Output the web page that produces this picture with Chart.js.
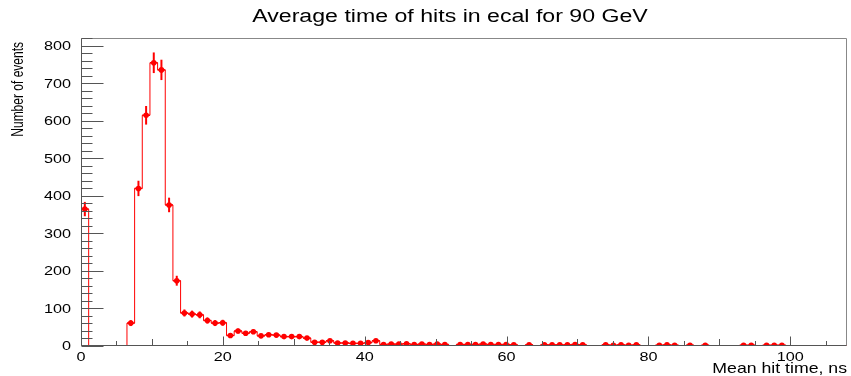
<!DOCTYPE html>
<html>
<head>
<meta charset="utf-8">
<script src="https://cdn.jsdelivr.net/npm/chart.js@4.4.1/dist/chart.umd.min.js"></script>
<style>
  html, body { margin: 0; padding: 0; background: #ffffff; }
  canvas { display: block; }
</style>
</head>
<body>
<canvas id="c" width="851" height="376"></canvas>
<script>
// Histogram binning: 100 bins of 1.08 ns from 0 to 108 ns
const binWidth = 1.08;
const xRange = [0, 108];
const yRange = [0, 821];

// Entries per bin (mean hit time in ECAL, 90 GeV)
const counts = [
  365, 0, 0, 0, 0, 0, 61, 420, 615, 755,
  736, 376, 174, 88, 85, 83, 68, 61, 62, 28,
  40, 34, 38, 27, 30, 29, 25, 25, 25, 21,
  10, 10, 14, 8, 8, 7, 7, 9, 14, 4,
  5, 5, 6, 4, 5, 4, 5, 4, 0, 4,
  4, 4, 5, 4, 4, 4, 3, 0, 3, 0,
  3, 3, 3, 3, 4, 3, 0, 0, 3, 2,
  3, 2, 3, 0, 0, 2, 3, 2, 0, 2,
  0, 2, 0, 0, 0, 0, 2, 2, 0, 2,
  2, 2, 0, 0, 0, 0, 0, 0, 0, 0
];

// Axis tick values (labelled) and tick spacing
const xMajorTicks = [0, 20, 40, 60, 80, 100];
const yMajorTicks = [0, 100, 200, 300, 400, 500, 600, 700, 800];
const xMinorStep = 5;
const yMinorStep = 20;

const titleText = 'Average time of hits in ecal for 90 GeV';
const xTitleText = 'Mean hit time, ns';
const yTitleText = 'Number of events';

const RED = '#ff0000';
const AXIS = '#555555';
const FONT = '"Liberation Sans", Arial, Helvetica, sans-serif';

// Outline of the histogram as a step line over the bin edges
const outline = [{ x: xRange[0], y: 0 }];
counts.forEach((v, i) => outline.push({ x: i * binWidth, y: v }));
outline.push({ x: counts.length * binWidth, y: 0 });

// Markers at the bin centres for every filled bin
const markers = [];
counts.forEach((v, i) => {
  if (v > 0) markers.push({ x: (i + 0.5) * binWidth, y: v, err: Math.sqrt(v) });
});

// Tick list for an axis at a fixed spacing
function tickList(axis, step) {
  const list = [];
  for (let v = Math.ceil(axis.min / step) * step; v <= axis.max + 1e-9; v += step) list.push({ value: v });
  return list;
}

// Text drawn with a horizontal stretch
function stretchedText(ctx, text, x, y, o) {
  ctx.save();
  ctx.translate(x, y);
  ctx.scale(o.sx || 1, 1);
  if (o.rot) ctx.rotate(o.rot);
  ctx.font = o.font;
  ctx.fillStyle = o.color || '#000';
  ctx.textAlign = o.align || 'left';
  ctx.textBaseline = o.baseline || 'alphabetic';
  ctx.fillText(text, 0, 0);
  ctx.restore();
}

const errorBars = {
  id: 'errorBars',
  afterDatasetsDraw(chart) {
    const { ctx, scales: { x, y } } = chart;
    ctx.save();
    ctx.strokeStyle = RED;
    markers.forEach(m => {
      const cx = x.getPixelForValue(m.x);
      const y0 = y.getPixelForValue(Math.max(0, m.y - m.err));
      const y1 = y.getPixelForValue(m.y + m.err);
      ctx.lineWidth = 2;
      ctx.beginPath();
      ctx.moveTo(cx, y0);
      ctx.lineTo(cx, y1);
      ctx.stroke();
      const xl = x.getPixelForValue(m.x - binWidth / 2);
      const xr = x.getPixelForValue(m.x + binWidth / 2);
      const cy = y.getPixelForValue(m.y);
      ctx.lineWidth = 1.5;
      ctx.beginPath();
      ctx.moveTo(xl, cy);
      ctx.lineTo(xr, cy);
      ctx.stroke();
    });
    ctx.restore();
  }
};

const frameAndAxes = {
  id: 'frameAndAxes',
  afterDraw(chart) {
    const { ctx, chartArea: a, scales: { x, y } } = chart;
    const L = Math.round(a.left) + 0.5, R = Math.round(a.right) - 0.5;
    const T = Math.round(a.top) + 0.5, B = Math.round(a.bottom) - 0.5;
    ctx.save();
    ctx.lineWidth = 1;
    ctx.strokeStyle = '#888888';
    ctx.beginPath();
    ctx.moveTo(L, T); ctx.lineTo(R, T); ctx.lineTo(R, B);
    ctx.stroke();
    ctx.strokeStyle = AXIS;
    ctx.beginPath();
    ctx.moveTo(L, T); ctx.lineTo(L, B); ctx.lineTo(R, B);
    ctx.stroke();

    // y ticks: major every 100, minor every 20
    y.ticks.forEach(t => {
      const py = Math.round(y.getPixelForValue(t.value)) + 0.5;
      const len = yMajorTicks.includes(t.value) ? 22 : 11;
      ctx.beginPath();
      ctx.moveTo(L, py); ctx.lineTo(L + len, py);
      ctx.stroke();
    });
    // x ticks: major every 20, half-interval every 10, minor every 5
    x.ticks.forEach(t => {
      const px = Math.round(x.getPixelForValue(t.value)) + 0.5;
      const len = t.value % 20 === 0 ? 9 : (t.value % 10 === 0 ? 6.5 : 4.5);
      ctx.beginPath();
      ctx.moveTo(px, B); ctx.lineTo(px, B - len);
      ctx.stroke();
    });
    ctx.restore();

    const tickFont = '13.5px ' + FONT;
    yMajorTicks.forEach(v => {
      stretchedText(ctx, String(v), a.left - 10, y.getPixelForValue(v) + 0.5,
        { font: tickFont, sx: 1.2, align: 'right', baseline: 'middle' });
    });
    xMajorTicks.forEach(v => {
      stretchedText(ctx, String(v), x.getPixelForValue(v), a.bottom + 14.5,
        { font: tickFont, sx: 1.2, align: 'center' });
    });

    stretchedText(ctx, titleText, 450, 22, { font: '18px ' + FONT, sx: 1.285, align: 'center' });
    stretchedText(ctx, xTitleText, a.right, 373, { font: '14.5px ' + FONT, sx: 1.22, align: 'right' });
    stretchedText(ctx, yTitleText, 23, a.top + 4, { font: '12px ' + FONT, sx: 1.3, align: 'right', rot: -Math.PI / 2 });
  }
};

new Chart(document.getElementById('c'), {
  data: {
    datasets: [
      {
        type: 'line',
        data: outline,
        stepped: 'before',
        borderColor: RED,
        borderWidth: 1,
        pointRadius: 0,
        fill: false,
        order: 2
      },
      {
        type: 'scatter',
        data: markers,
        pointRadius: 2.8,
        pointBackgroundColor: RED,
        pointBorderWidth: 0,
        order: 1
      }
    ]
  },
  options: {
    responsive: false,
    animation: false,
    devicePixelRatio: 1,
    layout: { padding: { left: 81, top: 38, right: 2, bottom: 30 } },
    plugins: { legend: { display: false }, tooltip: { enabled: false } },
    scales: {
      x: { type: 'linear', display: false, min: xRange[0], max: xRange[1],
           ticks: { display: false, autoSkip: false },
           afterBuildTicks: axis => { axis.ticks = tickList(axis, xMinorStep); } },
      y: { type: 'linear', display: false, min: yRange[0], max: yRange[1],
           ticks: { display: false, autoSkip: false },
           afterBuildTicks: axis => { axis.ticks = tickList(axis, yMinorStep); } }
    }
  },
  plugins: [errorBars, frameAndAxes]
});
</script>
</body>
</html>
